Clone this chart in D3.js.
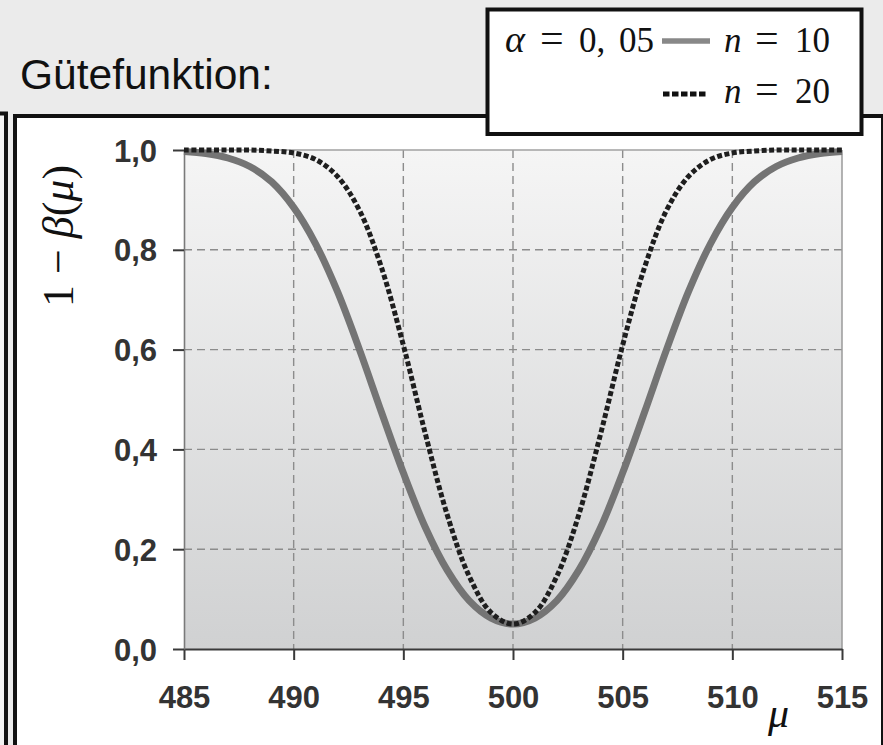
<!DOCTYPE html>
<html>
<head>
<meta charset="utf-8">
<script src="https://cdn.jsdelivr.net/npm/d3@7"></script>
<style>
  html, body { margin: 0; padding: 0; background: #ebebeb; }
  svg { display: block; }
</style>
</head>
<body>
<svg id="chart" width="883" height="745"></svg>
<script>
// ---- data ----
const mu = [485,486,487,488,489,490,491,492,493,494,495,496,497,498,499,500,501,502,503,504,505,506,507,508,509,510,511,512,513,514,515];
const power_n10 = [0.997,0.993,0.984,0.967,0.936,0.885,0.812,0.716,0.600,0.475,0.353,0.244,0.158,0.097,0.062,0.050,0.062,0.097,0.158,0.244,0.353,0.475,0.600,0.716,0.812,0.885,0.936,0.967,0.984,0.993,0.997];
const power_n20 = [1.000,1.000,1.000,1.000,0.998,0.994,0.981,0.947,0.879,0.765,0.609,0.432,0.269,0.146,0.073,0.050,0.073,0.146,0.269,0.432,0.609,0.765,0.879,0.947,0.981,0.994,0.998,1.000,1.000,1.000,1.000];
const xTicks = [485,490,495,500,505,510,515];
const yTicks = [0,0.2,0.4,0.6,0.8,1.0];
const yTickLabels = ["0,0","0,2","0,4","0,6","0,8","1,0"];
const title = "Gütefunktion:";

const svg = d3.select("#chart");

// ---- frames ----
svg.append("rect").attr("x",-100).attr("y",113.5).attr("width",106).attr("height",700)
  .attr("fill","#f2f2f2").attr("stroke","#111").attr("stroke-width",4);
svg.append("rect").attr("x",15).attr("y",116).attr("width",868).attr("height",700)
  .attr("fill","#ffffff").attr("stroke","#111").attr("stroke-width",4);

// title
svg.append("text").attr("x",20).attr("y",89).text(title)
  .attr("font-family","'Liberation Sans', Arial, sans-serif").attr("font-size",42.5).attr("fill","#111");

// ---- scales ----
const x = d3.scaleLinear().domain([485,515]).range([184,842]);
const y = d3.scaleLinear().domain([0,1]).range([649,150]);

// plot background gradient
const defs = svg.append("defs");
const grad = defs.append("linearGradient").attr("id","bg").attr("x1",0).attr("y1",0).attr("x2",0).attr("y2",1);
grad.append("stop").attr("offset","0%").attr("stop-color","#f5f5f5");
grad.append("stop").attr("offset","100%").attr("stop-color","#d0d1d2");
svg.append("rect").attr("x",x(485)).attr("y",y(1)).attr("width",x(515)-x(485)).attr("height",y(0)-y(1))
  .attr("fill","url(#bg)");

// grid
const grid = svg.append("g").attr("stroke","#8c8c8c").attr("stroke-width",1.4).attr("stroke-dasharray","8,5");
grid.selectAll("line.v").data(xTicks.filter(d => d>485 && d<515)).join("line")
  .attr("x1",d=>x(d)).attr("x2",d=>x(d)).attr("y1",y(1)).attr("y2",y(0));
grid.selectAll("line.h").data(yTicks.filter(d => d>0 && d<1)).join("line")
  .attr("x1",x(485)).attr("x2",x(515)).attr("y1",d=>y(d)).attr("y2",d=>y(d));
// top and right border of plot
svg.append("line").attr("x1",x(485)).attr("x2",x(515)).attr("y1",y(1)).attr("y2",y(1)).attr("stroke","#a0a0a0").attr("stroke-width",1.5);
svg.append("line").attr("x1",x(515)).attr("x2",x(515)).attr("y1",y(1)).attr("y2",y(0)).attr("stroke","#9a9a9a").attr("stroke-width",1.5);

// axes
const sans = "'Liberation Sans', Arial, sans-serif";
const xAxis = d3.axisBottom(x).tickValues(xTicks).tickSize(11).tickFormat(d3.format("d")).tickSizeOuter(0);
const gx = svg.append("g").attr("transform",`translate(0,${y(0)})`).call(xAxis);
gx.select(".domain").attr("stroke","#3a3a3a").attr("stroke-width",2.2);
gx.selectAll(".tick line").attr("stroke","#3a3a3a").attr("stroke-width",2);
gx.selectAll(".tick text").attr("font-family",sans).attr("font-weight","bold")
  .attr("font-size",31).attr("fill","#333").attr("dy",0).attr("y",59);

const yAxis = d3.axisLeft(y).tickValues(yTicks).tickSize(11).tickFormat((d,i)=>yTickLabels[i]).tickSizeOuter(0);
const gy = svg.append("g").attr("transform",`translate(${x(485)},0)`).call(yAxis);
gy.select(".domain").attr("stroke","#7a7a7a").attr("stroke-width",1.6);
gy.selectAll(".tick line").attr("stroke","#3a3a3a").attr("stroke-width",2);
gy.selectAll(".tick text").attr("font-family",sans).attr("font-weight","bold")
  .attr("font-size",31).attr("fill","#333").attr("x",-27).attr("dy","0.36em");

// ---- curves ----
const line = d3.line().x((d,i)=>x(mu[i])).y(d=>y(d)).curve(d3.curveCatmullRom.alpha(0.5));
svg.append("path").attr("d",line(power_n10)).attr("fill","none").attr("stroke","#747474").attr("stroke-width",7);
svg.append("path").attr("d",line(power_n20)).attr("fill","none").attr("stroke","#1e1e1e").attr("stroke-width",5)
  .attr("stroke-dasharray","5,2.5");

// axis labels (math)
const serif = "'Liberation Serif', 'Times New Roman', serif";
const yl = svg.append("text").attr("transform","translate(73,236) rotate(-90)").attr("text-anchor","middle")
  .attr("font-family",serif).attr("font-size",44).attr("fill","#111");
yl.append("tspan").text("1 − ");
yl.append("tspan").attr("font-style","italic").text("β");
yl.append("tspan").text("(");
yl.append("tspan").attr("font-style","italic").text("μ");
yl.append("tspan").text(")");
svg.append("text").attr("x",768).attr("y",727).attr("font-family",serif).attr("font-style","italic")
  .attr("font-size",42).attr("fill","#111").text("μ");

// ---- legend ----
svg.append("rect").attr("x",487.5).attr("y",9.5).attr("width",374).attr("height",124.5)
  .attr("fill","#fff").attr("stroke","#111").attr("stroke-width",4);
const lg = svg.append("g").attr("font-family",serif).attr("font-size",35).attr("fill","#111");
function t(xp, yp, s, it, fs){
  lg.append("text").attr("x",xp).attr("y",yp).attr("font-style",it?"italic":"normal")
    .attr("font-size",fs||35).text(s);
}
t(505,52,"α",true,38);
t(540,52,"=",false,42);
t(579,52,"0,",false);
t(619,52,"05",false);
t(724,52,"n",true);
t(755,52,"=",false,42);
t(795,52,"10",false);
t(724,103,"n",true);
t(755,103,"=",false,42);
t(795,103,"20",false);
lg.append("line").attr("x1",662).attr("x2",710).attr("y1",41).attr("y2",41).attr("stroke","#888").attr("stroke-width",5.5);
lg.append("line").attr("x1",663).attr("x2",708).attr("y1",94).attr("y2",94).attr("stroke","#111").attr("stroke-width",5)
  .attr("stroke-dasharray","6.5,2.5");
</script>
</body>
</html>
